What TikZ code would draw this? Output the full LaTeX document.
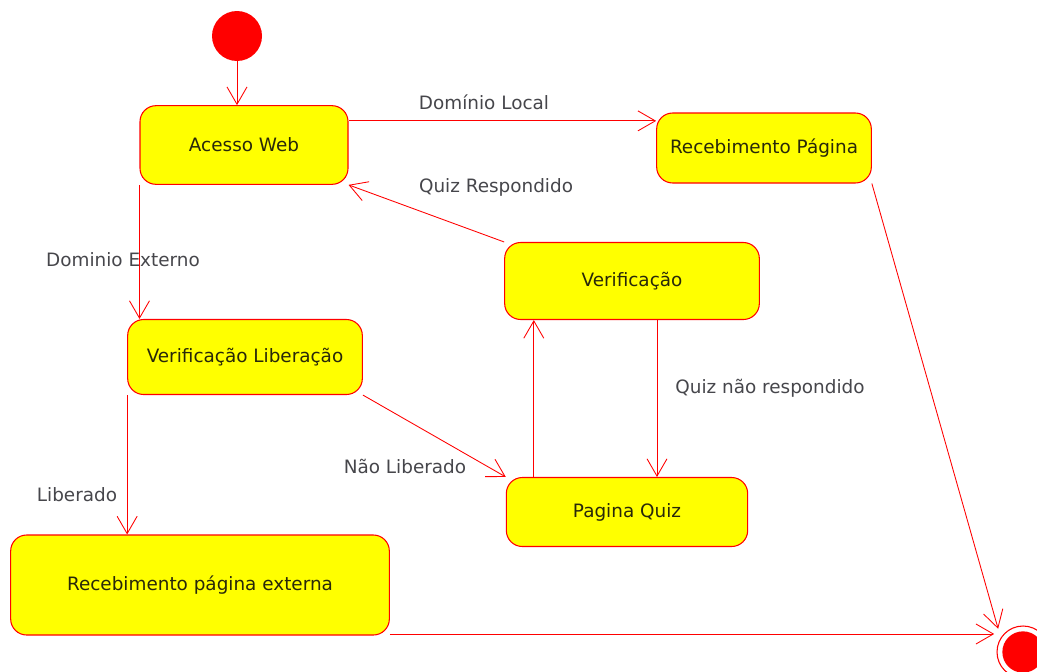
\documentclass[tikz,border=0pt]{standalone}
\usepackage{fontspec}
\setmainfont{DejaVu Sans}
\usepackage{tikz}
\usetikzlibrary{
  arrows.meta,
  positioning
}
\definecolor{StBox}{RGB}{255,255,0}
\definecolor{StLine}{RGB}{255,0,0}
\definecolor{StText}{RGB}{40,40,10}
\definecolor{TrText}{RGB}{70,70,75}

\begin{document}
\begin{tikzpicture}[
  x=0.75pt, y=-0.75pt,
  font=\fontsize{13.8}{16}\selectfont,
  flow/.style={draw=StLine, line width=0.65pt, -{Straight Barb[length=13pt, width=15pt]}},
  state/.style={draw=StLine, line width=0.8pt, fill=StBox, rounded corners=12pt,
    text=StText, inner sep=0pt, align=center},
  lab/.style={text=TrText, inner sep=1pt},
]
  % page
  \useasboundingbox (0,0) rectangle (1037,671);
  \clip (0,0) rectangle (1037,671);

  % pseudo states
  \node[circle, fill=StLine, minimum size=37.5pt, inner sep=0pt] (start) at (237,36) {};
  \node[circle, draw=StLine, line width=0.8pt, fill=white, minimum size=39pt,
    inner sep=0pt, outer sep=6pt,
    path picture={\fill[StLine] (path picture bounding box.center) circle (15.5pt);}]
    (fin) at (1023,652) {};

  % states
  \node[state, minimum width=156pt, minimum height=59pt] (acesso) at (244,145) {Acesso Web};
  \node[state, minimum width=161pt, minimum height=52.5pt] (receb) at (764,148) {Recebimento Página};
  \node[state, minimum width=191pt, minimum height=57.75pt] (verif) at (632,281) {Verificação};
  \node[state, minimum width=176pt, minimum height=56.25pt] (verlib) at (245,357) {Verificação Liberação};
  \node[state, minimum width=181pt, minimum height=51.75pt] (quiz) at (627,512) {Pagina Quiz};
  \node[state, minimum width=284pt, minimum height=75pt] (externa) at (200,585) {Recebimento página externa};

  % transitions
  \draw[flow] (start) -- (start |- acesso.north);
  \draw[flow] (acesso.13.5) -- (acesso.13.5 -| receb.west);
  \draw[flow] (receb.south east) -- (fin.137);
  \draw[flow] (verif.north west) -- (acesso.south east);
  \draw[flow] (acesso.south west) -- (acesso.south west |- verlib.north);
  \draw[flow] (verlib.south east) -- (quiz.north west);
  \draw[flow] (verlib.south west) -- (verlib.south west |- externa.north);
  \draw[flow] ([xshift=21pt]quiz.north west) -- ([xshift=21pt]quiz.north west |- verif.south);
  \draw[flow] ([xshift=18.75pt]verif.south) -- ([xshift=18.75pt]verif.south |- quiz.north);
  \draw[flow] (externa.east |- fin.148) -- (fin.148);

  % labels
  \node[lab] (lLocal) at (484,102) {Domínio Local};
  \node[lab] (lResp) at (496,187) {Quiz Respondido};
  \node[lab] (lExt) at (123,260) {Dominio Externo};
  \node[lab] (lNaoResp) at (770,388) {Quiz não respondido};
  \node[lab] (lNaoLib) at (405,466) {Não Liberado};
  \node[lab] (lLib) at (77,495) {Liberado};
\end{tikzpicture}
\end{document}
